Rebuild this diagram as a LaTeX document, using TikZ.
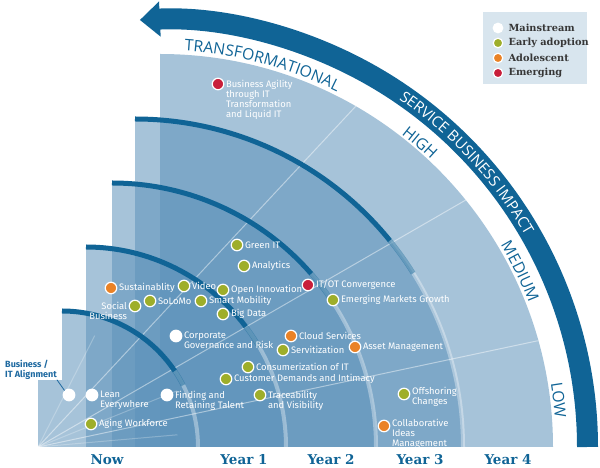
\documentclass[tikz,border=0pt]{standalone}
\usepackage{fontspec}
\usepackage{tikz}
\usepackage{xcolor}
\usetikzlibrary{arrows.meta, positioning, decorations.text}
\newfontfamily\labelfont{Fira Sans}
\newfontfamily\headfont{Open Sans}
\newfontfamily\yearfont{DejaVu Serif}
\definecolor{impactblue}{RGB}{16, 100, 150}
\definecolor{ringblue}{RGB}{93, 146, 186}
\definecolor{legendbg}{RGB}{216, 229, 238}
\definecolor{earlygreen}{RGB}{158, 174, 42}
\definecolor{adolorange}{RGB}{234, 130, 38}
\definecolor{emergred}{RGB}{200, 30, 58}
\definecolor{keygray}{RGB}{55, 55, 55}
\definecolor{bitblue}{RGB}{30, 105, 160}
\newcommand\headstyle{\headfont\fontsize{15.8}{18}\selectfont\color{impactblue}}
\newcommand\impactstyle{\headfont\fontsize{15}{18}\selectfont\color{white}}

\begin{document}
\begin{tikzpicture}[
    x=1pt, y=1pt,
    ring/.style={fill=ringblue, fill opacity=0.55},
    toparc/.style={impactblue, line width=5pt},
    fadearc/.style={impactblue, line width=5pt, draw opacity=0.45},
    lowarc/.style={white, line width=4pt, draw opacity=0.35},
    ray/.style={white, line width=1pt, draw opacity=0.45},
    dot/.style={circle, draw=white, line width=1.2pt, minimum size=11.5pt, inner sep=0pt},
    mainstream/.style={dot, fill=white},
    early/.style={dot, fill=earlygreen},
    adolescent/.style={dot, fill=adolorange},
    emerging/.style={dot, fill=emergred},
    lbl/.style={text=white, font=\labelfont\fontsize{9.4}{10}\selectfont, inner sep=0pt, align=left},
    bitlbl/.style={text=bitblue, font=\labelfont\bfseries\fontsize{9}{10}\selectfont, inner sep=0pt, align=left},
    yearlbl/.style={impactblue, font=\yearfont\bfseries\fontsize{13.5}{15}\selectfont},
    keylbl/.style={text=keygray, font=\yearfont\bfseries\fontsize{9.8}{11}\selectfont, inner sep=0pt}
]

\useasboundingbox (0,0) rectangle (600,468);

% Rings
\fill[ring] (38,21) rectangle (62,88);
\fill[ring] (62,21) -- (62,157) arc[start angle=90, end angle=0, radius=136] -- cycle;
\fill[ring] (86,21) -- (86,221) arc[start angle=90, end angle=0, radius=200] -- cycle;
\fill[ring] (112,21) -- (112,285) arc[start angle=90, end angle=0, radius=264] -- cycle;
\fill[ring] (135,21) -- (135,349) arc[start angle=90, end angle=0, radius=328] -- cycle;
\fill[ring] (160,21) -- (160,414) arc[start angle=90, end angle=0, radius=393] -- cycle;

% Rays
\coordinate (O) at (38,21);
\draw[ray] (O) -- ++(47:466);
\draw[ray] (O) -- ++(30:494);
\draw[ray] (O) -- ++(12:511);
\draw[ray, draw opacity=0.25] (O) -- ++(63:125);
\draw[ray, draw opacity=0.25] (O) -- ++(22:150);
\draw[ray, draw opacity=0.25] (O) -- ++(5:140);

% Ring edges
\draw[lowarc] (62,157) arc[start angle=90, end angle=0, radius=136];
\draw[toparc] (62,157) arc[start angle=90, end angle=34, radius=136];
\draw[fadearc] (62,21) ++(34:136) arc[start angle=34, end angle=27, radius=136];

\draw[lowarc] (86,221) arc[start angle=90, end angle=0, radius=200];
\draw[toparc] (86,221) arc[start angle=90, end angle=37, radius=200];
\draw[fadearc] (86,21) ++(37:200) arc[start angle=37, end angle=30, radius=200];

\draw[lowarc] (112,285) arc[start angle=90, end angle=0, radius=264];
\draw[toparc] (112,285) arc[start angle=90, end angle=41, radius=264];
\draw[fadearc] (112,21) ++(41:264) arc[start angle=41, end angle=34, radius=264];

\draw[lowarc] (135,349) arc[start angle=90, end angle=0, radius=328];
\draw[toparc] (135,349) arc[start angle=90, end angle=39, radius=328];
\draw[fadearc] (135,21) ++(39:328) arc[start angle=39, end angle=32, radius=328];

% Impact arrow
\draw[impactblue, line width=21pt, -{Triangle[length=20pt, width=34pt]}]
    (160,21) ++(0:427.5) arc[start angle=0, end angle=92.7, radius=427.5];
\path[decorate, decoration={text along path, text align=center, text={|\impactstyle|SERVICE BUSINESS IMPACT}}]
    (160,21) ++(75:422) arc[start angle=75, end angle=10.6, radius=422];

% Impact levels
\path[decorate, decoration={text along path, text align=center, text={|\headstyle|TRANSFORMATIONAL}}]
    (160,21) ++(95:397) arc[start angle=95, end angle=55, radius=397];
\path[decorate, decoration={text along path, text align=center, text={|\headstyle|HIGH}}]
    (160,21) ++(60:395) arc[start angle=60, end angle=39, radius=395];
\path[decorate, decoration={text along path, text align=center, text={|\headstyle|MEDIUM}}]
    (160,21) ++(38:396) arc[start angle=38, end angle=14, radius=396];
\path[decorate, decoration={text along path, text align=center, text={|\headstyle|LOW}}]
    (160,21) ++(16:396) arc[start angle=16, end angle=-2.6, radius=396];

% Years
\node[yearlbl] (now) at (107,8) {Now};
\node[yearlbl] (year1) at (244,8) {Year 1};
\node[yearlbl] (year2) at (331,8) {Year 2};
\node[yearlbl] (year3) at (420,8) {Year 3};
\node[yearlbl] (year4) at (508,8) {Year 4};

% Emerging
\node[emerging] (bagility) at (218,384) {};
\node[lbl, anchor=north west] at ([xshift=1.5pt, yshift=4.5pt]bagility.east) {Business Agility\\through IT\\Transformation\\and Liquid IT};
\node[emerging] (itot) at (308,183) {};
\node[lbl, right=1.5pt of itot] {IT/OT Convergence};

% Adolescent
\node[adolescent] (sustain) at (111,180) {};
\node[lbl, right=1.5pt of sustain] {Sustainablity};
\node[adolescent] (cloud) at (291,132) {};
\node[lbl, right=1.5pt of cloud] {Cloud Services};
\node[adolescent] (asset) at (355,121) {};
\node[lbl, right=1.5pt of asset] {Asset Management};
\node[adolescent] (collab) at (384,42) {};
\node[lbl, anchor=north west] at ([xshift=1.5pt, yshift=7.5pt]collab.east) {Collaborative\\Ideas\\Management};

% Early adoption
\node[early] (greenit) at (237,223) {};
\node[lbl, right=1.5pt of greenit] {Green IT};
\node[early] (analytics) at (244,202) {};
\node[lbl, right=1.5pt of analytics] {Analytics};
\node[early] (video) at (184,182) {};
\node[lbl, right=1.5pt of video] {Video};
\node[early] (openinno) at (223,178) {};
\node[lbl, right=1.5pt of openinno] {Open Innovation};
\node[early] (solomo) at (150,167) {};
\node[lbl, right=1.5pt of solomo] {SoLoMo};
\node[early] (smartmob) at (201,167) {};
\node[lbl, right=1.5pt of smartmob] {Smart Mobility};
\node[early] (social) at (135,162) {};
\node[lbl, align=right, anchor=north east] at ([xshift=-1.5pt, yshift=4.5pt]social.west) {Social\\Business};
\node[early] (bigdata) at (223,154) {};
\node[lbl, right=1.5pt of bigdata] {Big Data};
\node[early] (emerging) at (333,168) {};
\node[lbl, right=1.5pt of emerging] {Emerging Markets Growth};
\node[early] (servit) at (283,118) {};
\node[lbl, right=1.5pt of servit] {Servitization};
\node[early] (consumer) at (248,101) {};
\node[lbl, right=1.5pt of consumer] {Consumerization of IT};
\node[early] (customer) at (226,89) {};
\node[lbl, right=1.5pt of customer] {Customer Demands and Intimacy};
\node[early] (trace) at (260,73) {};
\node[lbl, anchor=north west] at ([xshift=1.5pt, yshift=4.5pt]trace.east) {Traceability\\and Visibility};
\node[early] (offshore) at (404,74) {};
\node[lbl, anchor=north west] at ([xshift=1.5pt, yshift=7.5pt]offshore.east) {Offshoring\\Changes};
\node[early] (aging) at (91,44) {};
\node[lbl, right=1.5pt of aging] {Aging Workforce};

% Mainstream
\node[mainstream] (corpgov) at (176,132) {};
\node[lbl, anchor=north west] at ([xshift=1.5pt, yshift=4.5pt]corpgov.east) {Corporate\\Governance and Risk};
\node[mainstream] (finding) at (167,73) {};
\node[lbl, anchor=north west] at ([xshift=1.5pt, yshift=4.5pt]finding.east) {Finding and\\Retaining Talent};
\node[mainstream] (lean) at (92,73) {};
\node[lbl, anchor=north west] at ([xshift=1.5pt, yshift=4.5pt]lean.east) {Lean\\Everywhere};
\node[mainstream] (bit) at (69,73) {};
\node[bitlbl, anchor=north west] (bitlabel) at (5,108) {Business /\\IT Alignment};
\draw[bitblue, line width=0.8pt] (bitlabel.south east) -- (bit.north west);

% Legend
\node[fill=legendbg, minimum width=104pt, minimum height=72pt, inner sep=0pt] (key) at (535,420) {};
\node[mainstream, minimum size=9.5pt] (k1) at (498,440) {};
\node[keylbl, right=5pt of k1] {Mainstream};
\node[early, minimum size=9.5pt] (k2) at (498,425) {};
\node[keylbl, right=5pt of k2] {Early adoption};
\node[adolescent, minimum size=9.5pt] (k3) at (498,410) {};
\node[keylbl, right=5pt of k3] {Adolescent};
\node[emerging, minimum size=9.5pt] (k4) at (498,395) {};
\node[keylbl, right=5pt of k4] {Emerging};

\end{tikzpicture}
\end{document}
